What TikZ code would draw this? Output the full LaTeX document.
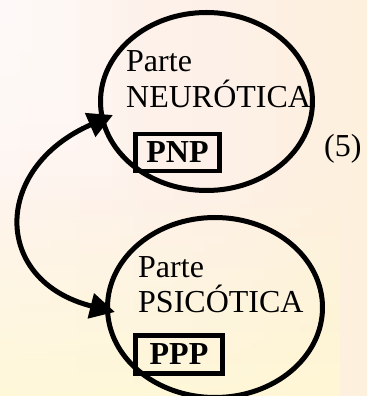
\documentclass[tikz,border=0pt]{standalone}
\usepackage{fontspec}
\setmainfont{Liberation Serif}
\usepackage{xcolor}
\usetikzlibrary{shapes.geometric,arrows.meta,fadings}
\definecolor{bgA}{HTML}{FFF7F5}
\definecolor{bgB}{HTML}{FDF0E8}
\definecolor{bgC}{HTML}{FDF0DC}
\definecolor{bgD}{HTML}{F5FDC4}
\definecolor{bgE}{HTML}{C8FF9C}
\definecolor{bgY}{HTML}{FFFAD0}
\pgfdeclarehorizontalshading{bgmix}{100bp}{color(0bp)=(bgA); color(55bp)=(bgB); color(75bp)=(bgC); color(87bp)=(bgD); color(100bp)=(bgE)}
\tikzset{
  oval/.style={ellipse, draw, line width=5pt, inner sep=0pt},
  tag/.style={draw, line width=4.5pt, inner sep=0pt, font=\bfseries},
  lbl/.style={anchor=base west, inner sep=0pt},
  bigtip/.tip={Triangle[length=25pt 0 0,width=25pt 0 0]},
}

\begin{document}
\begin{tikzpicture}[x=1pt,y=1pt]
        \fontsize{32}{36}\selectfont
        \useasboundingbox (0,0) rectangle (367,396);
        \shade[shading=bgmix] (0,0) rectangle (367,396);
        \fill[bgY, path fading=north, opacity=0.7] (0,0) rectangle (340,220);
        \foreach \i in {1,...,8}
          \fill[white, opacity=0.13] (0,396) rectangle (16*\i,396-25*\i);
        \node[oval, minimum width=212pt, minimum height=178pt](neur) at (206.5,294.5) {};
        \node[oval, minimum width=215pt, minimum height=180pt](psic) at (215,88.5) {};
        \node[lbl](parteN) at (126,324) {Parte};
        \node[lbl](neuro) at (126,288) {NEURÓTICA};
        \node[tag, minimum width=84pt, minimum height=37pt](pnp) at (177.5,243.5) {PNP};
        \node[lbl](cinco) at (324,239) {(5)};
        \node[lbl](parteP) at (138,118) {Parte};
        \node[lbl](psico) at (138,83) {PSICÓTICA};
        \node[tag, minimum width=87pt, minimum height=38pt](ppp) at (179,41.5) {PPP};
        \coordinate(tipN) at (113,281);
        \coordinate(tipP) at (115,84);
        \draw[line width=5pt, bigtip-bigtip]
          (tipN) .. controls (-8,228) and (-8,115) .. (tipP);
        \end{tikzpicture}
\end{document}
